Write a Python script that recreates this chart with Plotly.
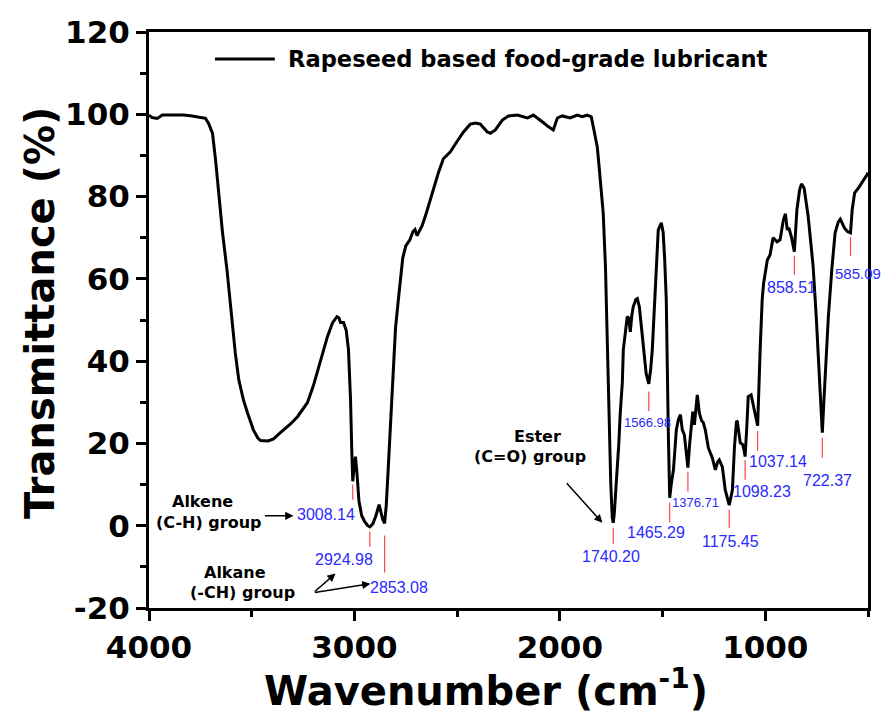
import plotly.graph_objects as go

# FTIR spectrum: wavenumber (cm-1) and transmittance (%)
wavenumber = [
    4000, 3985, 3960, 3935, 3880, 3830, 3790, 3750, 3725, 3710, 3691, 3676, 3661, 3642,
    3620, 3600, 3580, 3563, 3540, 3521, 3492, 3470, 3457, 3420, 3394, 3370, 3345, 3310,
    3277, 3229, 3200, 3180, 3165, 3131, 3107, 3085, 3075, 3068, 3053, 3040, 3029, 3019,
    3013, 3008.14, 3002, 2995, 2988, 2978, 2965, 2950, 2935, 2924.98, 2910, 2895, 2880,
    2872, 2862, 2853.08, 2845, 2835, 2825, 2815, 2800, 2786, 2775, 2765, 2750, 2730, 2715,
    2705, 2695, 2685, 2670, 2650, 2620, 2590, 2567, 2533, 2499, 2469, 2436, 2410, 2387,
    2353, 2338, 2314, 2280, 2250, 2207, 2180, 2158, 2129, 2105, 2081, 2057, 2032, 2012,
    1989, 1950, 1915, 1891, 1867, 1847, 1837, 1818, 1812, 1800, 1789, 1778, 1768, 1759,
    1752, 1745, 1740.20, 1735, 1728, 1721, 1713, 1706, 1696, 1691, 1680, 1672, 1665, 1657,
    1650, 1643, 1630, 1623, 1613, 1594, 1580, 1566.98, 1558, 1550, 1535, 1521, 1506, 1497,
    1490, 1482, 1472, 1465.29, 1458, 1447, 1433, 1423, 1413, 1404, 1394, 1385, 1376.71,
    1368, 1360, 1353, 1345, 1331, 1321, 1310, 1302, 1292, 1277, 1258, 1243, 1232, 1224,
    1209, 1195, 1175.45, 1160, 1150, 1140, 1136, 1122, 1110, 1104, 1098.23, 1090, 1083,
    1069, 1057, 1045, 1037.14, 1025, 1015, 1008, 990, 977, 962, 943, 928, 912, 902, 893,
    885, 872, 858.51, 846, 833, 824, 811, 791, 767, 752, 740, 731, 722.37, 715, 707, 693,
    675, 660, 645, 635, 625, 615, 600, 585.09, 577, 565, 546, 525, 505, 500,
]
transmittance = [
    99.8, 99.2, 99.0, 99.8, 99.8, 99.8, 99.6, 99.3, 99.0, 97.8, 95.4, 88.9, 80.9, 71.2,
    62.0, 51.0, 42.0, 35.5, 30.5, 27.5, 23.3, 21.3, 20.7, 20.6, 21.1, 22.2, 23.3, 24.8,
    26.5, 29.9, 34.0, 37.5, 39.6, 46.0, 49.3, 50.8, 50.5, 49.4, 49.4, 47.5, 42.8, 30.6,
    18.5, 10.8, 14.0, 16.8, 13.0, 6.0, 2.5, 1.0, 0.0, -0.3, 0.5, 2.5, 5.1,
    3.5, 1.5, 0.6, 5.0, 14.3, 25.0, 34.7, 48.0, 55.0, 61.0, 65.0, 68.0, 69.5, 71.5,
    72.0, 70.5, 71.5, 73.0, 76.0, 81.0, 86.0, 89.2, 90.9, 93.5, 95.7, 97.6, 97.9, 97.6,
    95.7, 95.4, 96.2, 98.6, 99.6, 99.8, 99.4, 99.1, 99.8, 99.0, 98.0, 97.0, 96.2, 99.1,
    99.6, 99.1, 99.8, 99.4, 99.8, 99.4, 97.0, 92.1, 89.0, 82.0, 76.0, 63.0, 42.8, 22.6,
    10.0, 2.0, 0.7, 3.0, 8.0, 12.0, 20.0, 27.4, 34.7, 42.8, 48.0, 50.8, 50.5, 47.1,
    51.0, 53.2, 55.0, 55.2, 53.2, 42.8, 37.0, 34.5, 38.0, 42.8, 59.0, 71.9, 73.6, 71.2,
    65.0, 54.9, 22.6, 6.8, 10.0, 13.6, 23.3, 25.8, 27.0, 23.3, 22.1, 18.0, 14.1,
    20.0, 25.1, 27.7, 24.5, 31.8, 27.4, 25.5, 25.1, 23.3, 18.9, 16.5, 13.6, 15.5, 16.0,
    14.3, 8.7, 5.0, 8.7, 19.2, 25.5, 25.3, 20.2, 19.7, 18.5, 16.8, 24.0, 31.4,
    31.8, 28.9, 26.0, 24.3, 42.8, 55.0, 59.0, 64.6, 65.8, 70.0, 69.0, 69.5, 74.3, 75.8, 71.9,
    72.4, 70.0, 66.6, 76.8, 81.6, 83.1, 82.1, 75.1, 63.0, 50.8, 38.6, 30.0, 22.6, 30.0, 38.6, 50.8,
    63.0, 71.2, 73.8, 74.5, 73.5, 72.4, 71.5, 71.2, 76.8, 80.9, 82.1, 83.6, 85.3, 85.8,
]

# Assigned absorption bands
peak_wn = [3008.14, 2924.98, 2853.08, 1740.20, 1566.98, 1465.29, 1376.71,
           1175.45, 1098.23, 1037.14, 858.51, 722.37, 585.09]
peak_text = ["3008.14", "2924.98", "2853.08", "1740.20", "1566.98", "1465.29", "1376.71",
             "1175.45", "1098.23", "1037.14", "858.51", "722.37", "585.09"]

series_name = "Rapeseed based food-grade lubricant"
x_ticks = [4000, 3000, 2000, 1000]
x_tick_text = ["4000", "3000", "2000", "1000"]
y_ticks = [-20, 0, 20, 40, 60, 80, 100, 120]
y_tick_text = ["-20", "0", "20", "40", "60", "80", "100", "120"]

# Placement of the band markers: (marker top, marker bottom, label x, label y, size, anchor)
marker_layout = {
    3008.14: (10.0, 6.3, 3136, 2.7, 16, "center"),
    2924.98: (-1.4, -5.1, 3049, -8.2, 16, "center"),
    2853.08: (-2.4, -11.4, 2781, -15.0, 16, "center"),
    1740.20: (-0.5, -4.4, 1749, -7.5, 16, "center"),
    1566.98: (32.6, 27.9, 1572, 25.0, 13, "center"),
    1465.29: (5.6, 0.8, 1530, -1.7, 16, "center"),
    1376.71: (13.1, 8.3, 1340, 5.6, 13, "center"),
    1175.45: (3.9, -0.5, 1170, -3.9, 16, "center"),
    1098.23: (16.0, 11.2, 1015, 8.3, 16, "center"),
    1037.14: (23.0, 18.2, 936, 15.6, 16, "center"),
    858.51: (65.6, 61.0, 873, 57.8, 16, "center"),
    722.37: (21.4, 16.5, 696, 10.9, 16, "center"),
    585.09: (70.2, 65.6, 672, 61.2, 15, "left"),
}

BOLD = "DejaVu Sans"
LABEL_FONT = "Liberation Sans, Arial"
BLUE = "#2a2aff"
RED = "#ff4545"

fig = go.Figure()

# red band markers
mx, my = [], []
for wn in peak_wn:
    top, bot = marker_layout[wn][:2]
    mx += [wn, wn, None]
    my += [top, bot, None]
fig.add_trace(go.Scatter(x=mx, y=my, mode="lines", line=dict(color=RED, width=1.2),
                         hoverinfo="skip", showlegend=False))

# spectrum
fig.add_trace(go.Scatter(x=wavenumber, y=transmittance, mode="lines", name=series_name,
                         line=dict(color="black", width=3), showlegend=False))

annotations = []
for wn, txt in zip(peak_wn, peak_text):
    _, _, lx, ly, size, anchor = marker_layout[wn]
    annotations.append(dict(x=lx, y=ly, xref="x", yref="y", text=txt, showarrow=False,
                            xanchor=anchor, yanchor="middle",
                            font=dict(family=LABEL_FONT, size=size, color=BLUE)))

group_font = dict(family=BOLD, size=16, color="black", weight="bold")
for txt, gx, gy in [("Alkene", 3741, 5.8), ("(C-H) group", 3706, 0.7),
                    ("Alkane", 3579, -11.3), ("(-CH) group", 3543, -16.3),
                    ("Ester", 2110, 21.6), ("(C=O) group", 2144, 16.8)]:
    annotations.append(dict(x=gx, y=gy, xref="x", yref="y", text=txt, showarrow=False,
                            xanchor="center", yanchor="middle", font=group_font))

# pointer arrows (tail -> head)
for (tx, ty), (hx, hy) in [((3443, 2.4), (3297, 2.4)),
                           ((3200, -16.3), (3092, -11.6)),
                           ((3200, -16.3), (2922, -14.1)),
                           ((1973, 10.7), (1793, 0.7))]:
    annotations.append(dict(x=hx, y=hy, ax=tx, ay=ty, xref="x", yref="y",
                            axref="x", ayref="y", text="", showarrow=True,
                            arrowhead=2, arrowsize=1.1, arrowwidth=1.5, arrowcolor="black"))

# axis titles
annotations.append(dict(x=0.469, y=-0.139, xref="paper", yref="paper",
                        text="Wavenumber (cm<sup>-1</sup>)", showarrow=False,
                        xanchor="center", yanchor="middle",
                        font=dict(family=BOLD, size=40, color="black", weight="bold")))
annotations.append(dict(x=-0.1516, y=0.512, xref="paper", yref="paper",
                        text="Transmittance (%)", showarrow=False, textangle=-90,
                        xanchor="center", yanchor="middle",
                        font=dict(family=BOLD, size=40, color="black", weight="bold")))

# legend entry
annotations.append(dict(x=0.1905, y=0.953, xref="paper", yref="paper",
                        text=series_name, showarrow=False, xanchor="left", yanchor="middle",
                        font=dict(family=BOLD, size=22.6, color="black", weight="bold")))
shapes = [dict(type="line", xref="paper", yref="paper", x0=0.0918, x1=0.175,
               y0=0.953, y1=0.953, line=dict(color="black", width=3))]

axis_common = dict(
    showline=True, linewidth=3, linecolor="black", mirror=True,
    ticks="outside", ticklen=10, tickwidth=3, tickcolor="black",
    showgrid=False, zeroline=False,
    tickfont=dict(family=BOLD, size=31, color="black", weight="bold"),
)

fig.update_layout(
    width=883, height=713,
    margin=dict(l=149, r=15, t=32, b=105),
    paper_bgcolor="white", plot_bgcolor="white",
    annotations=annotations, shapes=shapes,
    xaxis=dict(range=[4000, 500], tickvals=x_ticks, ticktext=x_tick_text,
               minor=dict(ticks="outside", ticklen=6, tickwidth=3, dtick=500,
                          tickcolor="black", showgrid=False),
               **axis_common),
    yaxis=dict(range=[-20, 120], tickvals=y_ticks, ticktext=y_tick_text,
               minor=dict(ticks="outside", ticklen=6, tickwidth=3, dtick=10,
                          tickcolor="black", showgrid=False),
               **axis_common),
)

fig.write_html("out.html")
